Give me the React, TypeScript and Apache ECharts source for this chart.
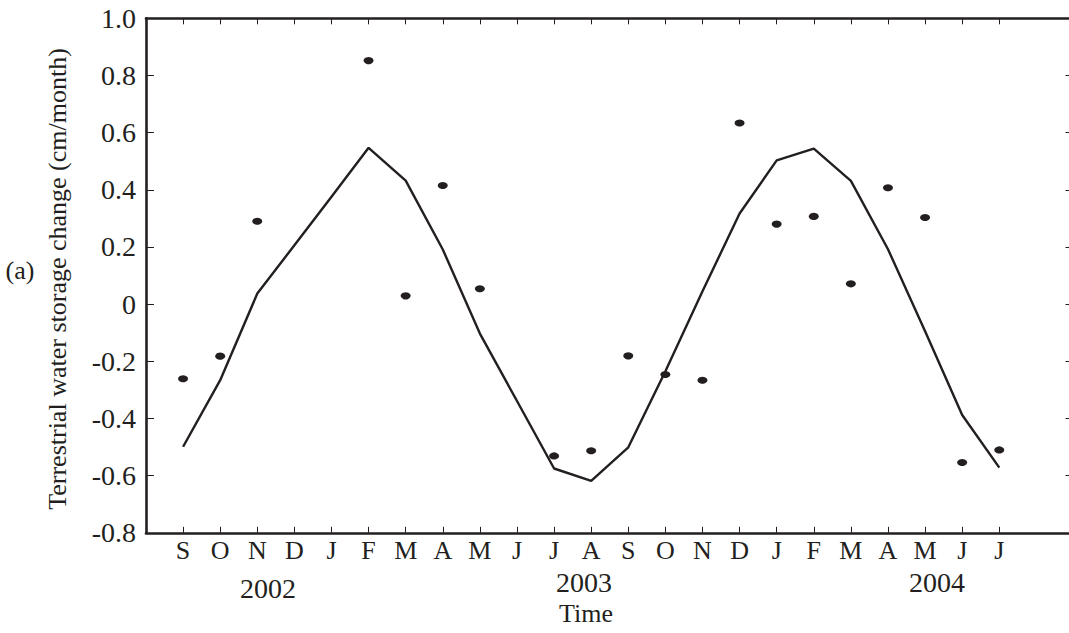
import React, { useEffect, useRef } from "react";
import * as echarts from "echarts";

const months = ["S", "O", "N", "D", "J", "F", "M", "A", "M", "J", "J", "A", "S", "O", "N", "D", "J", "F", "M", "A", "M", "J", "J"];
const modelChange = [-0.499, -0.266, 0.037, 0.206, 0.376, 0.547, 0.432, 0.191, -0.103, -0.339, -0.575, -0.618, -0.501, -0.235, 0.045, 0.317, 0.503, 0.544, 0.431, 0.192, -0.095, -0.388, -0.572];
const observedChange = [-0.261, -0.182, 0.29, null, null, 0.852, 0.029, 0.415, 0.054, null, -0.531, -0.513, -0.181, -0.246, -0.266, 0.634, 0.28, 0.307, 0.071, 0.407, 0.303, -0.554, -0.51];
const yearLabels = ["2002", "2003", "2004"];
const yearPositions = [[268, 588], [584, 582], [937, 582]];

const INK = "#231f20";
const FONT = "'Liberation Serif', 'Times New Roman', serif";

export default function App() {
  const ref = useRef<HTMLDivElement>(null);
  useEffect(() => {
    if (!ref.current) return;
    const chart = echarts.init(ref.current, null, { renderer: "svg" });
    const cats = ["", ...months, "", ""];
    const tickShown = (idx: number) => idx >= 1 && idx <= months.length;
    const lineData = modelChange.map((v, i) => [i + 1, v]);
    const dotData = observedChange
      .map((v, i) => (v === null ? null : [i + 1, v]))
      .filter((d) => d !== null);
    chart.setOption({
      animation: false,
      backgroundColor: "#ffffff",
      grid: {
        left: 146,
        top: 18.3,
        width: 927.5,
        height: 514.5,
        containLabel: false,
        outerBoundsMode: "none",
      },
      xAxis: [
        {
          type: "category",
          data: cats,
          boundaryGap: false,
          position: "bottom",
          axisLine: { show: true, onZero: false, lineStyle: { color: INK, width: 2.6 } },
          axisTick: { show: true, inside: true, length: 6, interval: tickShown, lineStyle: { color: INK, width: 1 } },
          axisLabel: { show: true, interval: 0, margin: 5, color: INK, fontSize: 26, fontFamily: FONT },
          splitLine: { show: false },
        },
        {
          type: "category",
          data: cats,
          boundaryGap: false,
          position: "top",
          axisLine: { show: true, onZero: false, lineStyle: { color: INK, width: 2.6 } },
          axisTick: { show: true, inside: true, length: 6, interval: tickShown, lineStyle: { color: INK, width: 1 } },
          axisLabel: { show: false },
          splitLine: { show: false },
        },
      ],
      yAxis: [
        {
          type: "value",
          min: -0.8,
          max: 1.0,
          interval: 0.2,
          position: "left",
          axisLine: { show: true, onZero: false, lineStyle: { color: INK, width: 2.6 } },
          axisTick: { show: true, inside: true, length: 8, lineStyle: { color: INK, width: 1 } },
          axisLabel: {
            margin: 10,
            color: INK,
            fontSize: 28,
            fontFamily: FONT,
            formatter: (v: number) => (Math.abs(v) < 1e-9 ? "0" : v.toFixed(1)),
          },
          splitLine: { show: false },
        },
        {
          type: "value",
          min: -0.8,
          max: 1.0,
          interval: 0.2,
          position: "right",
          axisLine: { show: true, onZero: false, lineStyle: { color: INK, width: 2.6 } },
          axisTick: { show: true, inside: true, length: 8, lineStyle: { color: INK, width: 1 } },
          axisLabel: { show: false },
          splitLine: { show: false },
        },
      ],
      series: [
        {
          type: "line",
          data: lineData,
          xAxisIndex: 0,
          yAxisIndex: 0,
          showSymbol: false,
          symbol: "none",
          lineStyle: { color: INK, width: 2.4 },
          z: 2,
        },
        {
          type: "scatter",
          data: dotData,
          xAxisIndex: 0,
          yAxisIndex: 0,
          symbol: "circle",
          symbolSize: [10, 7],
          itemStyle: { color: INK, opacity: 1 },
          z: 3,
        },
      ],
      graphic: [
        ...yearLabels.map((t, i) => ({
          type: "text",
          x: yearPositions[i][0],
          y: yearPositions[i][1],
          style: { text: t, fill: INK, font: `28px ${FONT}`, textAlign: "center", textVerticalAlign: "middle" },
        })),
        {
          type: "text",
          x: 586,
          y: 613,
          style: { text: "Time", fill: INK, font: `26px ${FONT}`, textAlign: "center", textVerticalAlign: "middle" },
        },
        {
          type: "text",
          x: 57,
          y: 279,
          rotation: Math.PI / 2,
          style: {
            text: "Terrestrial water storage change (cm/month)",
            fill: INK,
            font: `26px ${FONT}`,
            textAlign: "center",
            textVerticalAlign: "middle",
          },
        },
        {
          type: "text",
          x: 20,
          y: 270,
          style: { text: "(a)", fill: INK, font: `26px ${FONT}`, textAlign: "center", textVerticalAlign: "middle" },
        },
      ],
    });
    return () => chart.dispose();
  }, []);
  return (
    <div
      ref={ref}
      style={{ position: "fixed", left: 0, top: 0, width: 1069, height: 633, background: "#fff" }}
    />
  );
}
